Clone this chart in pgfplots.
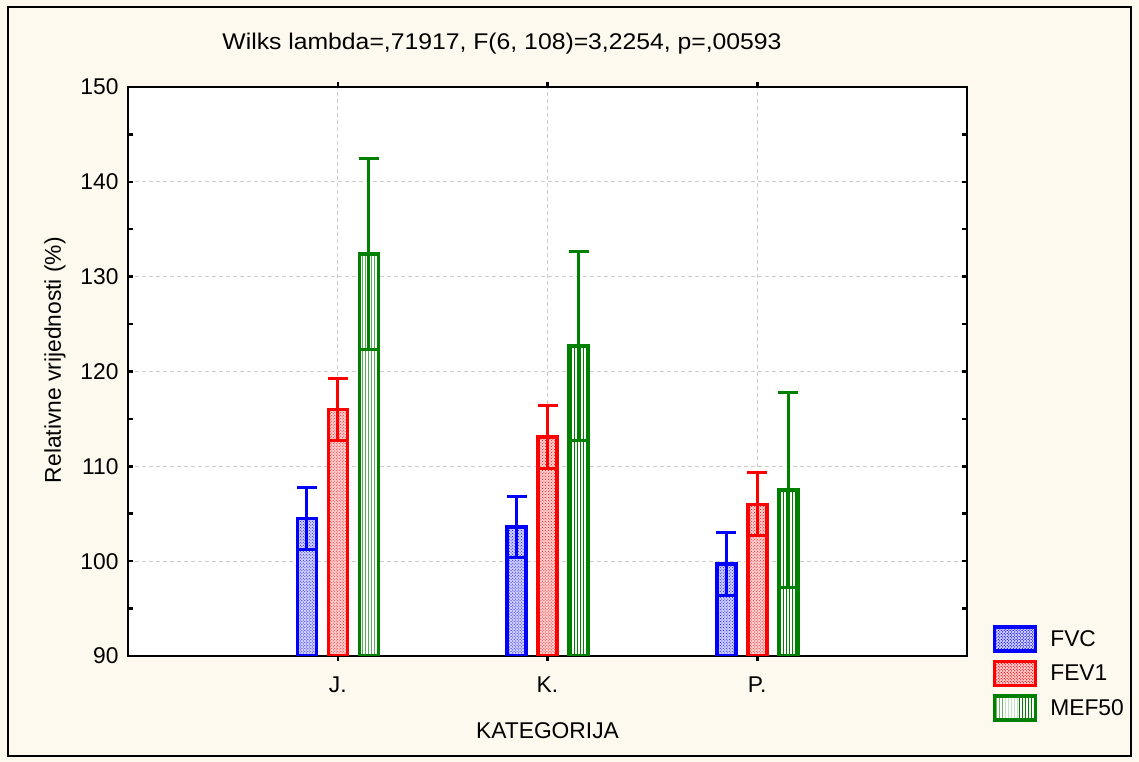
\documentclass[border=0pt]{standalone}
\usepackage{fontspec}
\setmainfont{Liberation Sans}
\newfontfamily\titlefont[FakeStretch=1.09]{Liberation Sans}
\usepackage{pgfplots}
\pgfplotsset{compat=1.18}
\usetikzlibrary{patterns}
\definecolor{cream}{RGB}{254,249,238}
\definecolor{sgreen}{RGB}{0,128,0}
\definecolor{sblue}{RGB}{0,0,255}
\definecolor{sred}{RGB}{255,0,0}
\begin{document}
\begin{tikzpicture}[font=\fontsize{22.8bp}{25bp}\selectfont]
\fill[cream] (0,0) rectangle (1139bp,762bp);
\draw[line width=1.5bp] (8bp,6bp) rectangle (1131bp,755bp);
\node[font=\titlefont\fontsize{22.7bp}{25bp}\selectfont] at (502bp,718bp) {Wilks lambda=,71917, F(6, 108)=3,2254, p=,00593};
\begin{axis}[
  at={(128bp,106bp)}, anchor=south west,
  scale only axis, width=839bp, height=569bp,
  xmin=0, xmax=4, ymin=90, ymax=150,
  axis background/.style={fill=white},
  axis line style={line width=2.5bp},
  xtick={1,2,3}, xticklabels={J.,K.,P.},
  ytick={90,100,...,150}, minor ytick={95,105,...,145},
  tick align=inside,
  major tick length=5bp, minor tick length=5bp,
  tick style={line width=2.5bp, black},
  grid=major,
  major grid style={dash pattern=on 4bp off 3bp, gray!40, line width=1bp},
  xticklabel style={yshift=-12bp},
  yticklabel style={xshift=-6bp},
  /pgf/number format/assume math mode=true,
  ybar=12bp, bar width=19bp,
  xlabel={KATEGORIJA},
  xlabel style={at={(axis description cs:0.5,-0.132)}, anchor=center},
  ylabel={Relativne vrijednosti (\%)},
  ylabel style={at={(axis description cs:-0.087,0.52)}, anchor=center},
  legend style={at={(rel axis cs:1.027,0.058)}, anchor=north west, draw=none, fill=none,
    row sep=7bp, nodes={inner sep=2bp, anchor=west},
    /tikz/every odd column/.append style={column sep=11bp}},
  legend cell align=left,
]
\addplot[draw=sblue, line width=3.5bp, fill=blue!18,
  postaction={pattern=crosshatch dots, pattern color=sblue},
  legend image code/.code={\draw[draw=sblue, line width=3.5bp, fill=blue!18,
    postaction={pattern=crosshatch dots, pattern color=sblue}] (0bp,-12bp) rectangle (41bp,12bp);},
  error bars/.cd, y dir=both, y explicit,
  error bar style={line width=3bp, sblue},
  error mark options={rotate=90, mark size=10bp, line width=3bp, sblue}]
  coordinates {(1,104.5) +- (0,3.3) (2,103.6) +- (0,3.2) (3,99.7) +- (0,3.3)};
\addlegendentry{FVC}
\addplot[draw=sred, line width=3.5bp, fill=red!18,
  postaction={pattern=crosshatch dots, pattern color=sred},
  legend image code/.code={\draw[draw=sred, line width=3.5bp, fill=red!18,
    postaction={pattern=crosshatch dots, pattern color=sred}] (0bp,-12bp) rectangle (41bp,12bp);},
  error bars/.cd, y dir=both, y explicit,
  error bar style={line width=3bp, sred},
  error mark options={rotate=90, mark size=10bp, line width=3bp, sred}]
  coordinates {(1,116.0) +- (0,3.3) (2,113.1) +- (0,3.3) (3,106.0) +- (0,3.3)};
\addlegendentry{FEV1}
\addplot[draw=sgreen, line width=3.5bp, fill=white,
  postaction={pattern=vertical lines, pattern color=sgreen},
  legend image code/.code={\draw[draw=sgreen, line width=3.5bp, fill=white,
    postaction={pattern=vertical lines, pattern color=sgreen}] (0bp,-12bp) rectangle (41bp,12bp);},
  error bars/.cd, y dir=both, y explicit,
  error bar style={line width=3bp, sgreen},
  error mark options={rotate=90, mark size=10bp, line width=3bp, sgreen}]
  coordinates {(1,132.4) +- (0,10.1) (2,122.7) +- (0,10.0) (3,107.5) +- (0,10.3)};
\addlegendentry{MEF50}
\end{axis}
\end{tikzpicture}
\end{document}
